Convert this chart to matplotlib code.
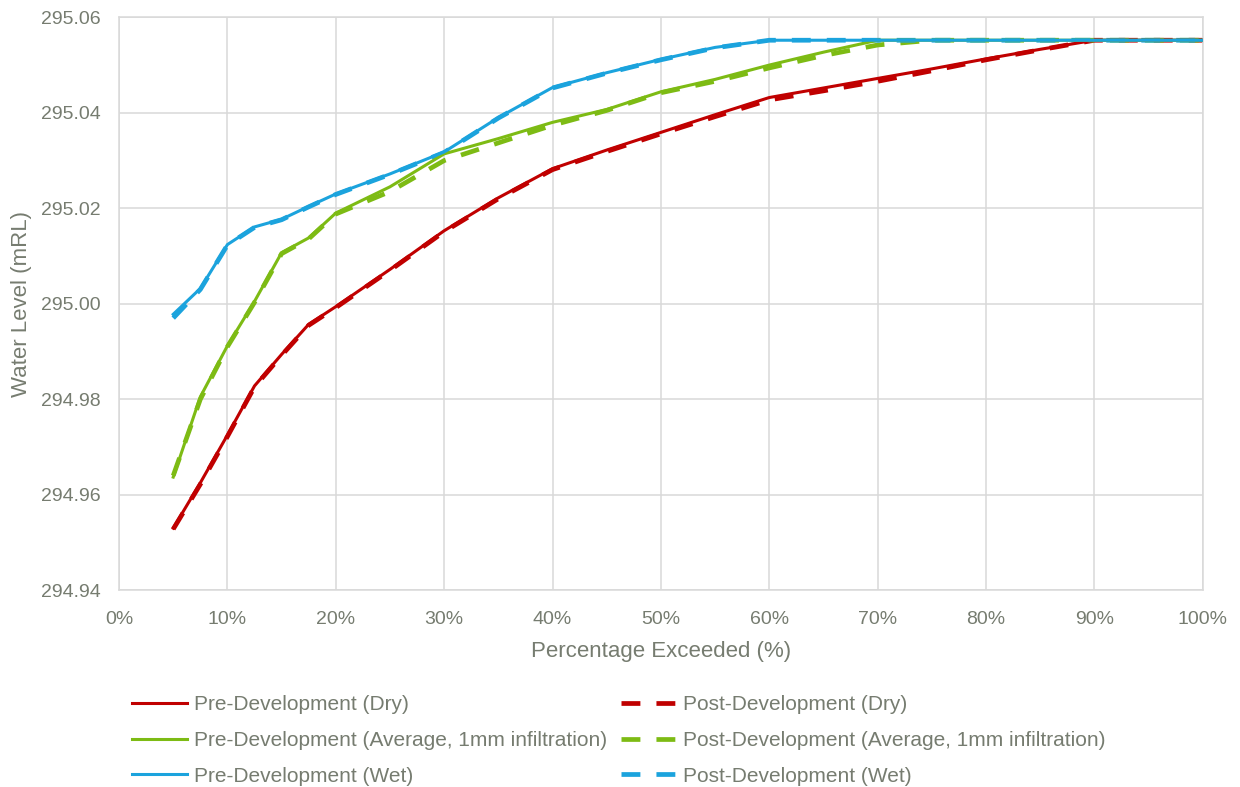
"""water level exceedance curves, pre vs post development"""

import matplotlib
matplotlib.use("Agg")
import matplotlib.pyplot as plt
from matplotlib.ticker import FuncFormatter

plt.rcParams["font.family"] = ["Liberation Sans", "DejaVu Sans"]

TXT = "#767c70"
GRID = "#d9d9d9"

# percentage exceeded (%)
x_pct = [5, 7.5, 10, 12.5, 15, 17.5, 20, 25, 30, 35, 40, 45, 50,
         55, 60, 65, 70, 75, 80, 85, 90, 95, 100]

dry_pre = [294.9530, 294.9625, 294.9725, 294.9828, 294.9894, 294.9957, 294.9994,
           295.0072, 295.0153, 295.0222, 295.0283, 295.0322, 295.0359,
           295.0396, 295.0432, 295.0452, 295.0472, 295.0492, 295.0513,
           295.0533, 295.0552, 295.0552, 295.0552]
dry_post = [294.9528, 294.9622, 294.9722, 294.9826, 294.9892, 294.9955, 294.9992,
            295.0070, 295.0151, 295.0220, 295.0281, 295.0319, 295.0356,
            295.0392, 295.0427, 295.0446, 295.0466, 295.0488, 295.0511,
            295.0532, 295.0552, 295.0552, 295.0552]

avg_pre = [294.9637, 294.9805, 294.9912, 295.0005, 295.0107, 295.0138, 295.0190,
           295.0245, 295.0314, 295.0346, 295.0380, 295.0407, 295.0444,
           295.0470, 295.0500, 295.0527, 295.0552, 295.0552, 295.0552,
           295.0552, 295.0552, 295.0552, 295.0552]
avg_post = [294.9640, 294.9800, 294.9910, 295.0003, 295.0105, 295.0136, 295.0188,
            295.0235, 295.0300, 295.0337, 295.0374, 295.0405, 295.0442,
            295.0466, 295.0494, 295.0520, 295.0542, 295.0552, 295.0552,
            295.0552, 295.0552, 295.0552, 295.0552]

wet_pre = [294.9978, 295.0032, 295.0124, 295.0161, 295.0177, 295.0204, 295.0230,
           295.0272, 295.0318, 295.0390, 295.0453, 295.0484, 295.0512,
           295.0537, 295.0552, 295.0552, 295.0552, 295.0552, 295.0552,
           295.0552, 295.0552, 295.0552, 295.0552]
wet_post = [294.9970, 295.0030, 295.0123, 295.0160, 295.0176, 295.0203, 295.0229,
            295.0271, 295.0317, 295.0389, 295.0452, 295.0483, 295.0511,
            295.0536, 295.0552, 295.0552, 295.0552, 295.0552, 295.0552,
            295.0552, 295.0552, 295.0552, 295.0552]

RED, GREEN, BLUE = "#c00000", "#7dbb14", "#1ba3dd"

fig = plt.figure(figsize=(12.4, 7.87), dpi=100)
ax = fig.add_axes([0.096, 0.250, 0.874, 0.728])

series = [
    (dry_pre, RED, "-", "Pre-Development (Dry)"),
    (avg_pre, GREEN, "-", "Pre-Development (Average, 1mm infiltration)"),
    (wet_pre, BLUE, "-", "Pre-Development (Wet)"),
    (dry_post, RED, "--", "Post-Development (Dry)"),
    (avg_post, GREEN, "--", "Post-Development (Average, 1mm infiltration)"),
    (wet_post, BLUE, "--", "Post-Development (Wet)"),
]
handles = {}
for vals, col, ls, lab in series:
    if ls == "-":
        h, = ax.plot(x_pct, vals, color=col, lw=2.2, label=lab, zorder=3)
    else:
        h, = ax.plot(x_pct, vals, color=col, lw=3.4, ls=(0, (4.0, 3.4)),
                     label=lab, zorder=2)
    handles[lab] = h

ax.set_xlim(0, 100)
ax.set_ylim(294.94, 295.06)
ax.set_xticks(range(0, 101, 10))
ax.set_yticks([294.94, 294.96, 294.98, 295.00, 295.02, 295.04, 295.06])
ax.xaxis.set_major_formatter(FuncFormatter(lambda v, p: f"{v:.0f}%"))
ax.yaxis.set_major_formatter(FuncFormatter(lambda v, p: f"{v:.2f}"))
ax.grid(True, color=GRID, lw=1.1)
ax.set_axisbelow(True)
for sp in ax.spines.values():
    sp.set_color(GRID)
    sp.set_linewidth(1.1)
ax.tick_params(length=0, labelsize=14, colors=TXT)
ax.tick_params(axis="x", pad=15)
ax.tick_params(axis="y", pad=13)
ax.set_xlabel("Percentage Exceeded (%)", fontsize=16, color=TXT, labelpad=9)
ax.set_ylabel("Water Level (mRL)", fontsize=16, color=TXT, labelpad=7)

order = [s[3] for s in series]
leg = fig.legend([handles[k] for k in order], order, ncol=2, frameon=False,
                 loc="center", bbox_to_anchor=(0.499, 0.059), fontsize=15,
                 handlelength=2.67, handletextpad=0.3, columnspacing=0.7,
                 labelspacing=0.8)
for t in leg.get_texts():
    t.set_color(TXT)

fig.savefig("out.png", dpi=100)
